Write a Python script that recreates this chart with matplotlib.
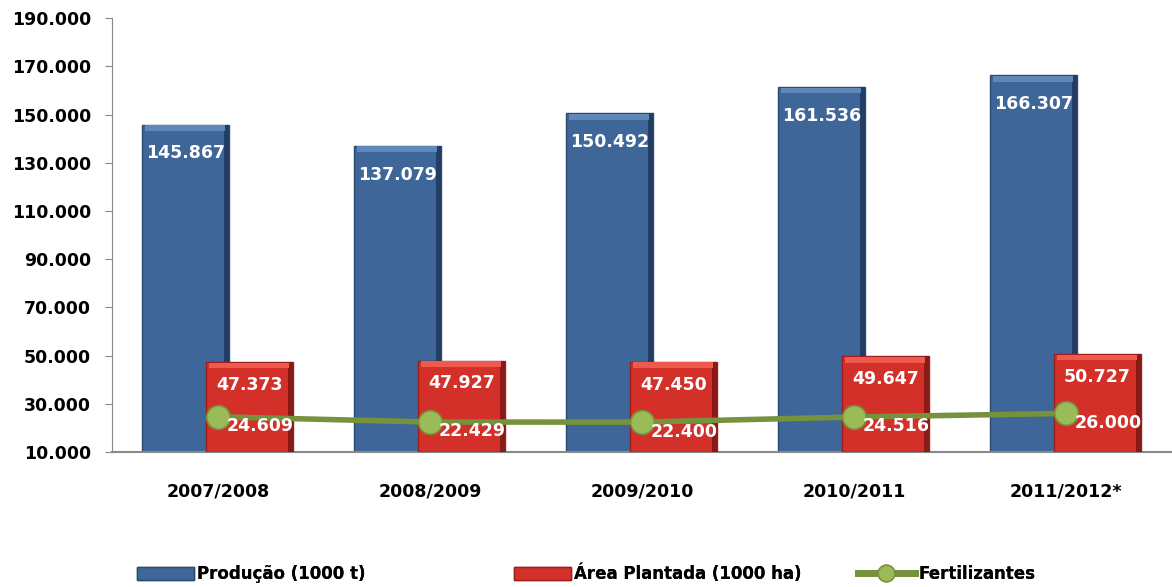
import numpy as np
import matplotlib.pyplot as plt
from matplotlib.lines import Line2D
from matplotlib.patches import Patch

safras = ['2007/2008', '2008/2009', '2009/2010', '2010/2011', '2011/2012*']
producao = [145867, 137079, 150492, 161536, 166307]
area = [47373, 47927, 47450, 49647, 50727]
fertilizantes = [24609, 22429, 22400, 24516, 26000]

def fmt(v):
    return '{:,}'.format(v).replace(',', '.')

azul = '#3E6699'
vermelho = '#D3302A'
verde_linha = '#76923C'
verde_ponto = '#9BBB59'

fig = plt.figure(figsize=(11.72, 5.87), dpi=100)
ax = fig.add_axes([0.0956, 0.230, 0.9044, 0.739])

x = np.arange(len(safras))
w = 0.41
base = 10000
dx_b, dx_r = -0.155, 0.147

def barra(pos, vals, cor, borda, claro, escuro, z):
    vals = np.array(vals)
    ax.bar(pos, vals - base, w, bottom=base, color=cor, edgecolor=borda,
           linewidth=1.0, zorder=z)
    # bevel: faixa escura a direita, faixa clara no topo
    ax.bar(pos + w / 2 - 0.012, vals - base, 0.024, bottom=base, color=escuro,
           linewidth=0, zorder=z + 0.1)
    ax.bar(pos, 2300, w - 0.03, bottom=vals - 2600, color=claro,
           linewidth=0, zorder=z + 0.1)

barra(x + dx_b, producao, azul, '#2B4A70', '#5F87B8', '#223F63', 2)
barra(x + dx_r, area, vermelho, '#9E1E1A', '#F05A4E', '#8A1A16', 3)
ax.plot(x, fertilizantes, color=verde_linha, lw=4, marker='o', ms=17,
        markerfacecolor=verde_ponto, markeredgecolor=verde_linha, mew=1.2, zorder=4)

for i in range(len(x)):
    ax.text(x[i] + dx_b, producao[i] - 12000, fmt(producao[i]), color='white',
            ha='center', va='center', fontsize=12.5, fontweight='bold', zorder=5)
    ax.text(x[i] + dx_r, area[i] - 9500, fmt(area[i]), color='white',
            ha='center', va='center', fontsize=12.5, fontweight='bold', zorder=5)
    ax.text(x[i] + 0.2, fertilizantes[i] - 3900, fmt(fertilizantes[i]), color='white',
            ha='center', va='center', fontsize=12.5, fontweight='bold', zorder=5)

ax.set_xlim(-0.5, len(x) - 0.5)
ax.set_ylim(10000, 190000)
yt = np.arange(10000, 190001, 20000)
ax.set_yticks(yt)
ax.set_yticklabels([fmt(v) for v in yt], fontsize=12.5, fontweight='bold')
ax.set_xticks(x)
ax.set_xticklabels(safras, fontsize=12.5, fontweight='bold')
ax.tick_params(axis='x', length=0, pad=22)
ax.tick_params(axis='y', length=5, color='#888888', pad=10)
for s in ['top', 'right']:
    ax.spines[s].set_visible(False)
ax.spines['left'].set_color('#888888')
ax.spines['bottom'].set_color('#888888')
ax.spines['bottom'].set_linewidth(1.5)

handles = [
    Patch(facecolor=azul, edgecolor='#2B4A70', label='Produção (1000 t)'),
    Patch(facecolor=vermelho, edgecolor='#9E1E1A', label='Área Plantada (1000 ha)'),
    Line2D([0], [0], color=verde_linha, lw=5, marker='o', ms=12,
           markerfacecolor=verde_ponto, markeredgecolor=verde_linha, label='Fertilizantes'),
]
posicoes = [137, 514, 858]
for h, px in zip(handles, posicoes):
    leg = fig.legend(handles=[h], loc='center left', bbox_to_anchor=(px / 1172, 1 - 574 / 587),
                     frameon=False, handlelength=3.4, handleheight=0.8, handletextpad=0.2,
                     borderpad=0, borderaxespad=0,
                     prop={'weight': 'bold', 'size': 12})
    fig.add_artist(leg)

fig.savefig('out.png', dpi=100)
